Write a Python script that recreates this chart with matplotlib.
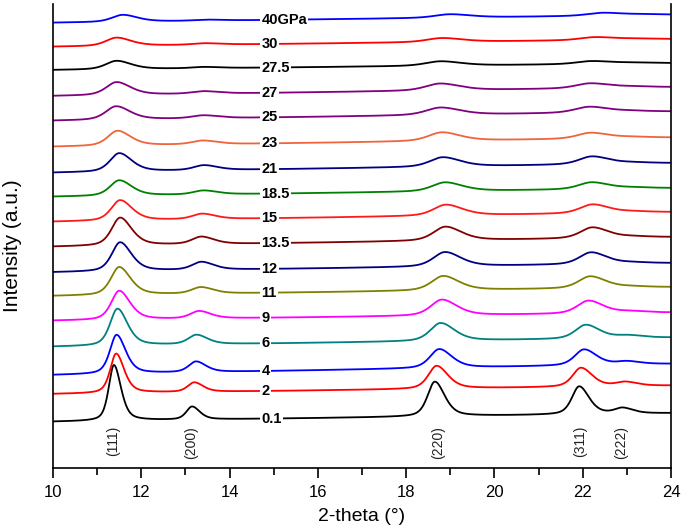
import numpy as np
import matplotlib
matplotlib.use('Agg')
import matplotlib.pyplot as plt
from matplotlib.ticker import MultipleLocator

plt.rcParams['font.family'] = ['Liberation Sans', 'DejaVu Sans']

# pressure steps, bottom curve first
pressures = ['0.1', '2', '4', '6', '9', '11', '12', '13.5', '15',
             '18.5', '21', '23', '25', '27', '27.5', '30', '40GPa']
colors = ['#000000', '#ff0000', '#0000ff', '#008080', '#ff00ff', '#808000',
          '#000080', '#800000', '#ff1a1a', '#008000', '#000080', '#f0643c',
          '#800080', '#800080', '#000000', '#ff0000', '#0000ff']

# stacked baseline (offset) at 2-theta = 10 and 24
base_left = [46.3, 74, 93, 121.3, 147.3, 172, 195.7, 221.3, 246.3,
             271.3, 295.3, 321.3, 347.3, 372, 398, 421.3, 445.3]
base_right = [54.7, 82.3, 104, 130.3, 155.3, 180.7, 204.7, 230.7, 255.7,
              279.7, 304.7, 330.3, 356.3, 380.7, 404.7, 428.7, 453]

hkl = ['(111)', '(200)', '(220)', '(311)', '(222)']
hkl_pos = [11.37, 13.14, 18.73, 21.94, 22.88]

# peak positions (deg)
pos_111 = [11.38, 11.43, 11.44, 11.46, 11.50, 11.50, 11.52, 11.52, 11.52,
           11.50, 11.50, 11.46, 11.43, 11.44, 11.44, 11.44, 11.58]
pos_200 = [13.15, 13.20, 13.24, 13.25, 13.31, 13.35, 13.36, 13.36, 13.38,
           13.41, 13.42, 13.39, 13.41, 13.41, 13.42, 13.44, 13.48]
pos_220 = [18.65, 18.69, 18.75, 18.78, 18.81, 18.84, 18.88, 18.89, 18.90,
           18.88, 18.83, 18.81, 18.78, 18.77, 18.78, 18.81, 18.99]
pos_311 = [21.92, 21.96, 22.03, 22.07, 22.13, 22.17, 22.19, 22.22, 22.22,
           22.20, 22.21, 22.18, 22.15, 22.17, 22.20, 22.28, 22.45]
pos_222 = [22.90, 22.96, 23.00, 23.03, 23.08, 23.12, 23.14, 23.17, 23.17,
           23.16, 23.17, 23.14, 23.11, 23.13, 23.16, 23.24, 23.40]

# peak heights above baseline
h_111 = [55.8, 39.5, 39, 37, 29, 28, 29, 28, 20.5, 15.5, 18.5, 15, 13.5, 13, 8.5, 8.3, 7]
h_200 = [13, 9.5, 10.7, 9.5, 7.5, 6.5, 8, 7.5, 5.5, 4, 5, 3.8, 3, 2.5, 1.3, 1.5, 1]
h_220 = [34.8, 23, 19, 18, 16, 14.5, 14.5, 14, 11, 9, 9.5, 8.7, 7.5, 7, 4.5, 4, 3.5]
h_311 = [28, 19, 16, 14, 13, 12, 12, 11, 9, 7, 8, 6, 6, 5, 3, 3, 3]
h_222 = [5.5, 4, 3, 2.5, 1.5, 1, 1, 1, 1, 1, 1, 1, 1, 1, 0.8, 0.8, 0.8]

# FWHM of (111) and width factor of each reflection
w_111 = [0.28, 0.32, 0.36, 0.40, 0.43, 0.45, 0.45, 0.46, 0.48,
         0.50, 0.50, 0.52, 0.56, 0.56, 0.58, 0.58, 0.58]
w_ratio = [1.0, 1.1, 1.4, 1.4, 1.5]


def peak(x, c, h, w, eta=0.5, asym=1.35):
    hw = np.where(x < c, w / 2, w / 2 * asym)
    d = (x - c) / hw
    return h * (eta / (1 + d ** 2) + (1 - eta) * np.exp(-np.log(2) * d ** 2))


fig = plt.figure(figsize=(6.85, 5.3), dpi=100)
ax = fig.add_axes([53 / 685, 1 - 468 / 530, 618 / 685, 464 / 530])

x = np.linspace(10, 24, 1500)
lab_x = 14.72
for i, p in enumerate(pressures):
    y = base_left[i] + (base_right[i] - base_left[i]) * (x - 10) / 14
    pk = [(pos_111[i], h_111[i]), (pos_200[i], h_200[i]), (pos_220[i], h_220[i]),
          (pos_311[i], h_311[i]), (pos_222[i], h_222[i])]
    for k, (c, h) in enumerate(pk):
        y = y + peak(x, c, h, w_111[i] * w_ratio[k])
    ax.plot(x, y, color=colors[i], lw=1.3, zorder=2)
    ax.text(lab_x, np.interp(lab_x + 0.2, x, y), p, ha='left', va='center',
            fontsize=10.5, fontweight='bold', zorder=3,
            bbox=dict(boxstyle='square,pad=0.08', fc='white', ec='none'))

for lab, xp in zip(hkl, hkl_pos):
    ax.text(xp, 42, lab, rotation=90, ha='center', va='top', fontsize=10, color='#222222')

ax.set_xlim(10, 24)
ax.set_ylim(0, 464)
ax.xaxis.set_major_locator(MultipleLocator(2))
ax.xaxis.set_minor_locator(MultipleLocator(1))
ax.tick_params(axis='x', which='major', direction='out', length=7, width=1.2, labelsize=12, pad=5)
ax.tick_params(axis='x', which='minor', direction='out', length=5, width=1.2)
ax.set_yticks([])
ax.spines['top'].set_visible(False)
for s in ['left', 'right', 'bottom']:
    ax.spines[s].set_linewidth(1.2)

ax.set_xlabel('2-theta (\u00b0)', fontsize=14, labelpad=6)
ax.set_ylabel('Intensity (a.u.)', fontsize=15)
ax.yaxis.set_label_coords(-0.05, 0.48)

fig.savefig('out.png', dpi=100)
